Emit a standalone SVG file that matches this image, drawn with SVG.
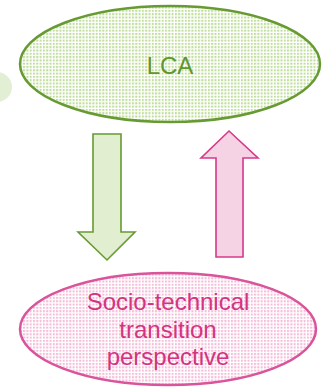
<svg xmlns="http://www.w3.org/2000/svg" width="328" height="388" viewBox="0 0 328 388">
<defs>
<pattern id="gdots" width="3.3" height="3.3" patternUnits="userSpaceOnUse">
<rect width="3.3" height="3.3" fill="#ffffff"/>
<rect width="2" height="2" fill="#bfde9c"/>
</pattern>
<pattern id="pdots" width="3.3" height="3.3" patternUnits="userSpaceOnUse">
<rect width="3.3" height="3.3" fill="#ffffff"/>
<rect width="2" height="2" fill="#f4bcd8"/>
</pattern>
<style>
.lbl{font-family:"Liberation Sans",Arial,sans-serif;font-size:24px;text-anchor:middle}
</style>
</defs>
<rect width="328" height="388" fill="#ffffff"/>
<circle cx="-3" cy="87" r="15" fill="#e2efd5"/>
<g id="lca">
<ellipse cx="170" cy="64" rx="150" ry="58" fill="url(#gdots)" stroke="#679a32" stroke-width="2.5"/>
<text class="lbl" x="170" y="74" fill="#629530">LCA</text>
</g>
<g id="connectors">
<path d="M93 134 H121 V232 H135 L107 260 L78 232 H93 Z" fill="#e1efd0" stroke="#679a32" stroke-width="1.6" stroke-linejoin="miter"/>
<path d="M229 131 L258 158 H243 V257 H216 V158 H201 Z" fill="#f5d3e4" stroke="#d6388a" stroke-width="1.6" stroke-linejoin="miter"/>
</g>
<g id="stt">
<ellipse cx="168" cy="329" rx="148" ry="56" fill="url(#pdots)" stroke="#d9549a" stroke-width="2.5"/>
<text class="lbl" fill="#d4347f"><tspan x="168" y="310">Socio-technical</tspan><tspan x="168" y="338">transition</tspan><tspan x="168" y="365">perspective</tspan></text>
</g>
</svg>
